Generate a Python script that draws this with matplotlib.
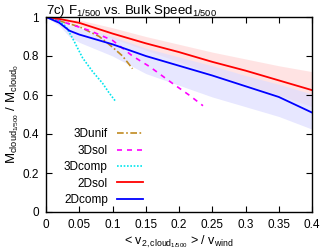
import numpy as np
import matplotlib
matplotlib.use('Agg')
import matplotlib.pyplot as plt

plt.rcParams['font.family'] = ['Liberation Sans', 'DejaVu Sans']
plt.rcParams['mathtext.fontset'] = 'custom'
plt.rcParams['mathtext.rm'] = 'Liberation Sans'
plt.rcParams['mathtext.it'] = 'Liberation Sans'

# 3D runs
unif_x = [0, 0.03, 0.05, 0.08, 0.1, 0.115, 0.13]
unif_y = [1, 0.97, 0.95, 0.9, 0.845, 0.8, 0.735]
sol_x = [0, 0.03, 0.066, 0.1, 0.13, 0.156, 0.19, 0.215, 0.236]
sol_y = [1, 0.97, 0.93, 0.88, 0.8, 0.745, 0.66, 0.6, 0.545]
comp_x = [0, 0.02, 0.03, 0.04, 0.055, 0.07, 0.085, 0.095, 0.104]
comp_y = [1, 0.98, 0.95, 0.89, 0.79, 0.72, 0.66, 0.61, 0.57]

# 2D runs with spread
x2d = [0, 0.02, 0.035, 0.05, 0.1, 0.15, 0.2, 0.25, 0.3, 0.35, 0.4]
sol2d = [1, 0.99, 0.98, 0.97, 0.915, 0.865, 0.82, 0.77, 0.725, 0.675, 0.625]
sol2d_hi = [1, 0.995, 0.99, 0.985, 0.945, 0.9, 0.86, 0.82, 0.785, 0.75, 0.72]
sol2d_lo = [1, 0.985, 0.97, 0.955, 0.89, 0.83, 0.77, 0.71, 0.655, 0.6, 0.54]
comp2d = [1, 0.97, 0.93, 0.91, 0.86, 0.8, 0.75, 0.7, 0.645, 0.59, 0.51]
comp2d_hi = [1, 0.985, 0.96, 0.945, 0.9, 0.84, 0.795, 0.75, 0.7, 0.655, 0.605]
comp2d_lo = [1, 0.955, 0.9, 0.87, 0.8, 0.71, 0.65, 0.59, 0.54, 0.49, 0.425]

fig = plt.figure(figsize=(3.2, 2.5), dpi=100)
ax = fig.add_axes([0.144, 0.152, 0.831, 0.78])

ax.fill_between(x2d, sol2d_lo, sol2d_hi, color='#ffdddd', alpha=0.8, lw=0)
ax.fill_between(x2d, comp2d_lo, comp2d_hi, color='#ddddff', alpha=0.7, lw=0)

ax.plot(unif_x, unif_y, color='#c08a20', lw=1.2, ls=(0, (4, 1.5, 1, 1.5)), label='3Dunif')
ax.plot(sol_x, sol_y, color='#ff00ff', lw=1.2, ls=(0, (3, 3)), label='3Dsol')
ax.plot(comp_x, comp_y, color='#00e5ee', lw=1.2, ls=(0, (1, 1)), label='3Dcomp')
ax.plot(x2d, sol2d, color='#ff0000', lw=1.3, label='2Dsol')
ax.plot(x2d, comp2d, color='#0000ff', lw=1.3, label='2Dcomp')

ax.set_xlim(0, 0.4)
ax.set_ylim(0, 1)
ax.set_xticks(np.arange(0, 0.41, 0.05))
ax.set_xticklabels(['0', '0.05', '0.1', '0.15', '0.2', '0.25', '0.3', '0.35', '0.4'])
ax.set_yticks(np.arange(0, 1.01, 0.2))
ax.set_yticklabels(['0', '0.2', '0.4', '0.6', '0.8', '1'])
ax.tick_params(direction='in', top=True, right=True, labelsize=8.5, length=4, pad=5)
for s in ax.spines.values():
    s.set_linewidth(1.0)

ax.set_title('7c) F$_{1/500}$ vs. Bulk Speed$_{1/500}$', fontsize=9.5, loc='left', pad=2)
ax.set_ylabel('M$_{cloud_{1/500}}$ / M$_{cloud_0}$', fontsize=9.5, labelpad=1)
ax.set_xlabel('< v$_{2,cloud_{1/500}}$ > / v$_{wind}$', fontsize=9, labelpad=2)

ax.legend(loc='lower left', bbox_to_anchor=(0.045, 0.0), frameon=False, markerfirst=False,
          fontsize=8.5, handlelength=2.2, labelspacing=0.38, borderaxespad=0.1)

fig.savefig('out.png', dpi=100)
